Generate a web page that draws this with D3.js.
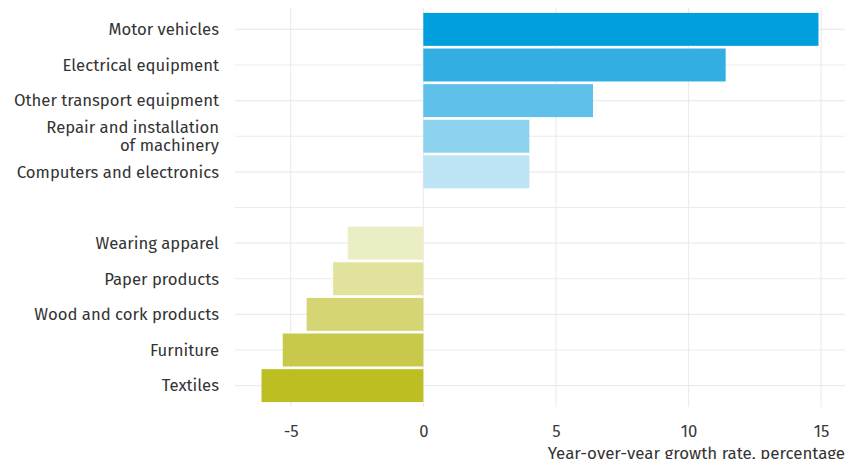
<!DOCTYPE html>
<html><head><meta charset="utf-8">
<script src="https://cdn.jsdelivr.net/npm/d3@7"></script>
<style>body{margin:0;background:#fff}svg{display:block}</style>
</head><body>
<script>
const categories = ["Motor vehicles","Electrical equipment","Other transport equipment","Repair and installation\nof machinery","Computers and electronics","","Wearing apparel","Paper products","Wood and cork products","Furniture","Textiles"];
const values = [14.9, 11.4, 6.4, 4.0, 4.0, null, -2.85, -3.4, -4.4, -5.3, -6.1];
const colors = ["#029FDE","#32AEE3","#5FC0E9","#8DD3EF","#BCE4F5",null,"#EBEDC4","#E1E29C","#D5D574","#C8C84A","#BDBE22"];
const xTicks = [-5, 0, 5, 10, 15];
const xTitle = "Year-over-year growth rate, percentage";

const W = 849, H = 459;
const pLeft = 235, pRight = 845, pTop = 8, pBottom = 407;
const font = "'Fira Sans','Open Sans','Noto Sans',sans-serif";
const fs = 16.7;
const svg = d3.select("body").append("svg").attr("width", W).attr("height", H);

const x = d3.scaleLinear().domain([-7.1, 15.9]).range([pLeft, pRight]);
const keys = categories.map((c, i) => "k" + i);
const y = d3.scaleBand().domain(keys).range([pTop, pBottom]).paddingInner(0.075).paddingOuter(0.1375);

const g = svg.append("g");
g.selectAll("line.vx").data(xTicks).join("line")
  .attr("x1", d => x(d)).attr("x2", d => x(d)).attr("y1", pTop).attr("y2", pBottom)
  .attr("stroke", "#ebebeb").attr("stroke-width", 1.1);
g.selectAll("line.hy").data(keys).join("line")
  .attr("x1", pLeft).attr("x2", pRight)
  .attr("y1", d => y(d) + y.bandwidth() / 2).attr("y2", d => y(d) + y.bandwidth() / 2)
  .attr("stroke", "#ebebeb").attr("stroke-width", 1.1);

const data = categories.map((c, i) => ({k: keys[i], c, v: values[i], col: colors[i]})).filter(d => d.v !== null);
g.selectAll("rect").data(data).join("rect")
  .attr("x", d => x(Math.min(0, d.v))).attr("width", d => Math.abs(x(d.v) - x(0)))
  .attr("y", d => y(d.k)).attr("height", y.bandwidth())
  .attr("fill", d => d.col);

const lab = g.selectAll("text.cat").data(categories.map((c, i) => ({c, k: keys[i]})).filter(d => d.c)).join("text")
  .attr("text-anchor", "end").attr("font-family", font).attr("font-size", fs).attr("fill", "#333")
  .attr("transform", d => `translate(219,${y(d.k) + y.bandwidth() / 2})`);
lab.each(function(d) {
  const lines = d.c.split("\n");
  const n = lines.length;
  d3.select(this).selectAll("tspan").data(lines).join("tspan")
    .attr("x", 0).attr("dy", (l, i) => i === 0 ? ((-(n - 1) * 17.5 / 2) + 5.8) : 17.5)
    .text(l => l);
});

const xa = d3.axisBottom(x).tickValues(xTicks).tickSize(0).tickPadding(0).tickFormat(d3.format("d"));
const ax = svg.append("g").attr("transform", `translate(0,${pBottom + 18})`).call(xa);
ax.select(".domain").remove();
ax.selectAll("text").attr("font-family", font).attr("font-size", fs).attr("fill", "#3a3a3a").attr("dy", "0.71em");
ax.selectAll("text").text(d => d < 0 ? "-" + Math.abs(d) : d);

svg.append("text").attr("x", pRight).attr("y", 459).attr("text-anchor", "end")
  .attr("font-family", font).attr("font-size", 16.9).attr("fill", "#333").text(xTitle);
</script>
</body></html>
